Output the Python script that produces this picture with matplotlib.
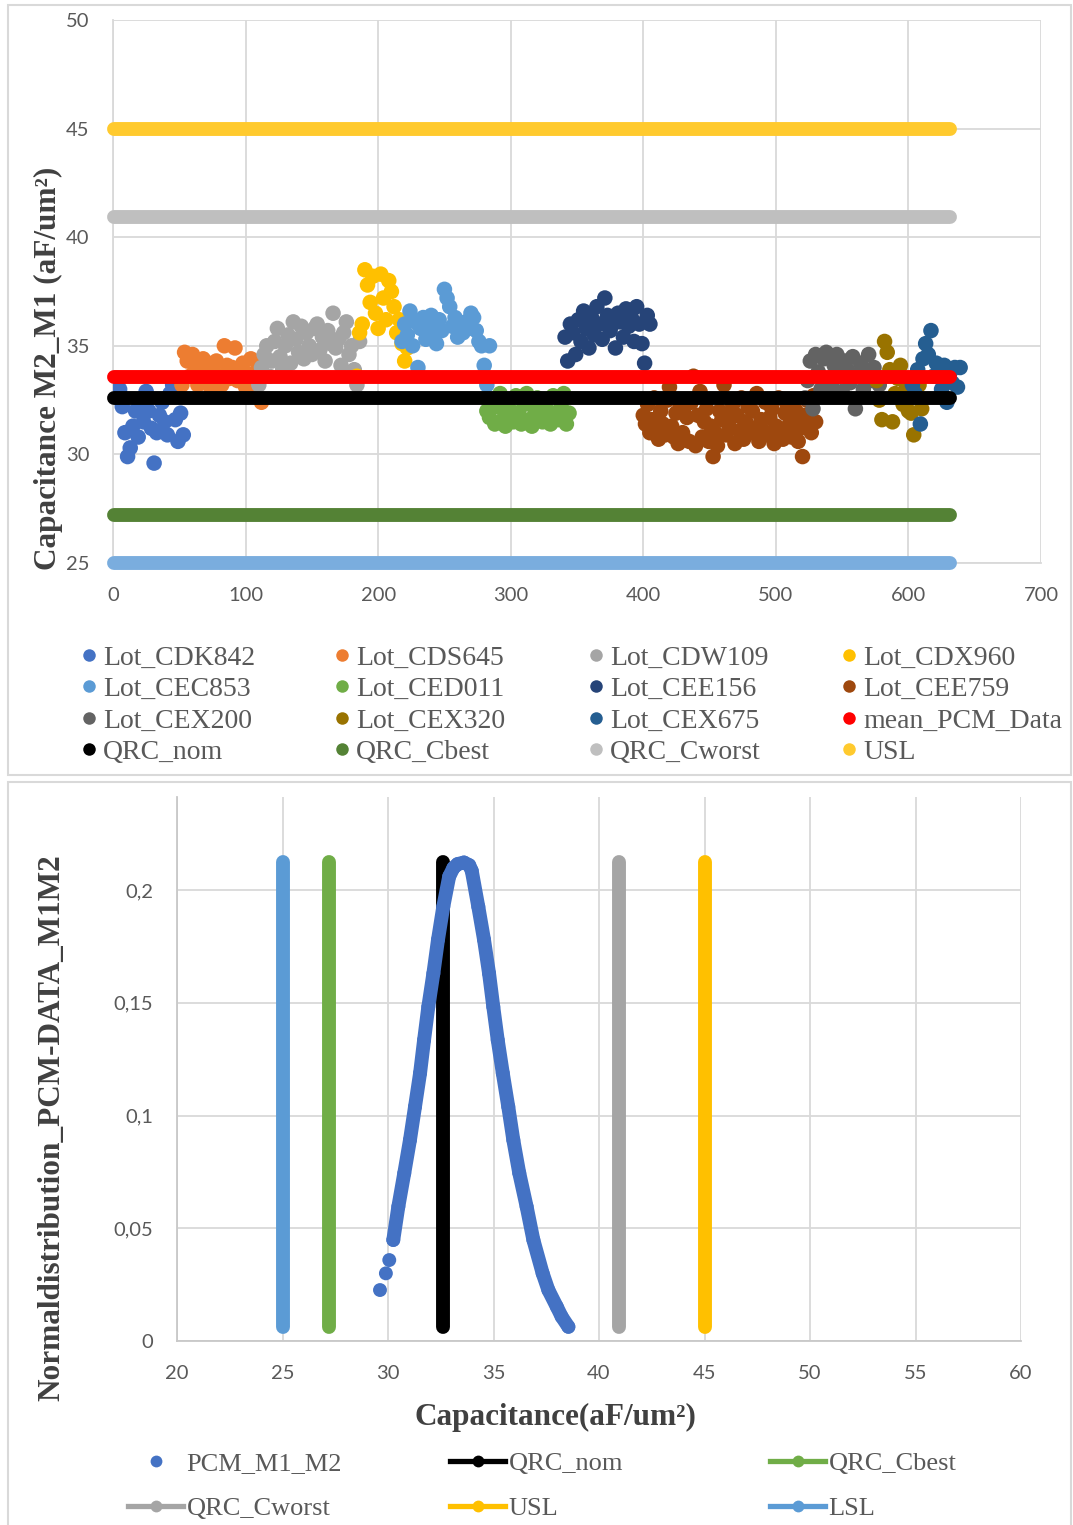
import numpy as np
import matplotlib
matplotlib.use("Agg")
import matplotlib.pyplot as plt
from matplotlib.lines import Line2D
from matplotlib.patches import Rectangle

# ---------------- data: top chart ----------------
lot_names = ["Lot_CDK842", "Lot_CDS645", "Lot_CDW109", "Lot_CDX960",
             "Lot_CEC853", "Lot_CED011", "Lot_CEE156", "Lot_CEE759",
             "Lot_CEX200", "Lot_CEX320", "Lot_CEX675"]
lot_x_start = [3, 52, 110, 184, 218, 282, 341, 400, 522, 576, 603]
lot_x_end = [53, 112, 186, 222, 284, 344, 405, 530, 578, 610, 639]

cdk842 = [33.5, 33.0, 32.2, 31.0, 29.9, 30.3, 31.3, 32.0, 30.8, 32.5, 31.5, 32.9, 32.0,
          31.2, 29.6, 31.0, 31.8, 32.4, 31.5, 30.9, 32.8, 33.2, 31.6, 30.6, 31.9, 30.9]
cds645 = [33.2, 34.7, 34.3, 33.6, 34.6, 34.0, 33.2, 33.9, 34.4, 33.5, 34.2, 33.0, 33.8,
          34.3, 33.6, 33.2, 35.0, 34.1, 33.5, 34.0, 34.9, 33.4, 33.9, 34.2, 33.1, 33.7,
          34.4, 32.9, 33.8, 34.3, 32.4]
cdw109 = [33.2, 34.0, 34.6, 35.0, 33.6, 34.3, 35.2, 35.8, 34.5, 33.9, 35.0, 35.5, 34.2,
          36.1, 35.3, 34.7, 35.9, 34.4, 35.6, 35.0, 34.6, 35.8, 36.0, 34.8, 35.4, 34.3,
          35.7, 35.1, 36.5, 34.9, 35.3, 34.1, 35.6, 36.1, 34.6, 35.0, 33.9, 33.2, 35.2]
cdx960 = [33.6, 35.6, 36.0, 38.5, 37.8, 37.0, 38.2, 36.5, 35.8, 38.3, 37.2, 36.2, 38.0,
          37.5, 36.8, 35.6, 36.2, 35.1, 34.3, 34.9]
cec853 = [35.2, 36.0, 35.5, 36.6, 35.0, 36.1, 34.0, 35.8, 36.3, 35.3, 35.9, 36.4, 35.6,
          35.1, 36.2, 35.7, 37.6, 37.2, 36.8, 35.9, 36.3, 35.4, 36.0, 35.6, 36.1, 35.8,
          36.5, 36.3, 35.7, 35.2, 35.0, 34.1, 33.2, 35.0]
ced011 = [32.0, 31.7, 32.5, 31.4, 32.2, 32.8, 31.6, 31.3, 32.4, 32.0, 31.5, 32.7, 31.9,
          31.4, 32.3, 32.8, 31.6, 31.3, 32.1, 32.6, 31.8, 31.5, 32.4, 32.0, 31.4, 32.7,
          31.8, 31.6, 32.2, 32.8, 31.4, 31.9]
cee156 = [35.4, 34.3, 36.0, 35.6, 34.6, 36.2, 35.2, 36.6, 35.8, 34.9, 36.3, 35.5, 36.8,
          36.0, 35.3, 37.2, 36.4, 35.7, 36.0, 34.9, 36.5, 36.1, 35.4, 36.7, 35.9, 36.3,
          35.2, 36.8, 36.0, 35.1, 34.2, 36.4, 36.0]
cee759 = [31.8, 31.4, 32.3, 31.0, 31.6, 32.6, 31.1, 30.7, 32.0, 31.4, 30.9, 32.5, 33.1,
          31.3, 30.8, 31.9, 30.5, 32.2, 31.0, 32.2, 31.7, 30.6, 32.4, 33.6, 30.4, 31.8,
          32.9, 30.8, 31.5, 32.1, 30.6, 31.3, 29.9, 31.0, 30.4, 32.0, 31.6, 33.2, 30.9,
          31.4, 31.9, 32.3, 30.5, 31.8, 31.1, 32.6, 30.7, 31.5, 32.2, 31.0, 32.0, 31.2,
          32.8, 30.6, 31.6, 31.1, 32.4, 30.9, 31.7, 32.1, 30.5, 31.3, 32.6, 31.0, 30.7,
          31.9, 32.3, 31.4, 30.8, 31.6, 32.0, 30.6, 31.2, 29.9, 31.8, 32.5, 31.3, 31.0,
          32.7, 31.5]
cex200 = [32.6, 33.4, 34.3, 32.1, 34.6, 33.8, 33.0, 34.4, 34.7, 33.5, 33.2, 34.1, 34.6,
          33.6, 32.9, 34.3, 33.9, 33.3, 34.5, 32.1, 33.7, 34.2, 33.0, 33.8, 34.6, 33.4,
          34.0, 33.6, 33.2]
cex320 = [33.4, 32.5, 31.6, 35.2, 34.7, 33.9, 31.5, 32.8, 33.5, 34.1, 32.3, 33.0, 32.0,
          31.9, 30.9, 32.6, 33.2, 32.1]
cex675 = [33.2, 32.8, 33.9, 31.4, 34.4, 35.1, 34.6, 35.7, 33.6, 34.2, 33.9, 33.0, 34.1,
          32.4, 33.7, 33.3, 34.0, 33.1, 34.0]
lot_values = [cdk842, cds645, cdw109, cdx960, cec853, ced011, cee156, cee759,
              cex200, cex320, cex675]

ref_names = ["mean_PCM_Data", "QRC_nom", "QRC_Cbest", "QRC_Cworst", "USL", "LSL"]
ref_values = [33.56, 32.6, 27.2, 40.95, 45.0, 25.0]
ref_x = [1, 631]

top_xticks = [0, 100, 200, 300, 400, 500, 600, 700]
top_yticks = [25, 30, 35, 40, 45, 50]

# ---------------- data: bottom chart ----------------
pdf_curve_x = [30.25, 30.49, 30.77, 31.04, 31.28, 31.52, 31.71, 31.91, 32.15, 32.37,
               32.62, 32.90, 33.10, 33.30, 33.60, 33.85, 33.97, 34.28, 34.55, 34.79,
               34.99, 35.20, 35.44, 35.70, 35.94, 36.22, 36.57, 36.89, 37.33, 37.60,
               38.00, 38.23, 38.55]
pdf_curve_y = [0.0448, 0.0596, 0.0744, 0.0891, 0.1039, 0.1188, 0.1335, 0.1482, 0.1630,
               0.1780, 0.1926, 0.2060, 0.2098, 0.2115, 0.2122, 0.2110, 0.2085, 0.1926,
               0.1780, 0.1630, 0.1482, 0.1335, 0.1188, 0.1039, 0.0891, 0.0745, 0.0596,
               0.0448, 0.0300, 0.0226, 0.0152, 0.0108, 0.0063]
pdf_tail_x = [29.62, 29.90, 30.06]
pdf_tail_y = [0.0226, 0.0300, 0.0359]

vline_names = ["QRC_nom", "QRC_Cbest", "QRC_Cworst", "USL", "LSL"]
vline_x = [32.6, 27.2, 40.95, 45.0, 25.0]
vline_y = [0.0063, 0.2124]

bot_xticks = [20, 25, 30, 35, 40, 45, 50, 55, 60]
bot_yticks = [0, 0.05, 0.1, 0.15, 0.2]
bot_yticklabels = ["0", "0,05", "0,1", "0,15", "0,2"]

# ---------------- styles ----------------
W, H = 1073, 1525
lot_colors = ["#4472C4", "#ED7D31", "#A5A5A5", "#FFC000", "#5B9BD5", "#70AD47",
              "#264478", "#9E480E", "#636363", "#997300", "#255E91"]
ref_colors = ["#FF0000", "#000000", "#548235", "#BFBFBF", "#FFCA2E", "#7AADDE"]
vline_colors = ["#000000", "#70AD47", "#A5A5A5", "#FFC000", "#5B9BD5"]
grid_c = "#D9D9D9"
tick_c = "#595959"
title_c = "#404040"
serif = "Liberation Serif"
sans = "Lato"


def fx(px):
    return px / W


def fy(py):
    return 1 - py / H


fig = plt.figure(figsize=(W / 100, H / 100), dpi=100)
fig.patch.set_facecolor("white")

# panel borders
fig.add_artist(Rectangle((fx(8), fy(775)), fx(1071) - fx(8), fy(5) - fy(775),
                         transform=fig.transFigure, fill=False, edgecolor=grid_c, lw=1.5))
fig.add_artist(Rectangle((fx(8), fy(1530)), fx(1071) - fx(8), fy(782) - fy(1530),
                         transform=fig.transFigure, fill=False, edgecolor=grid_c, lw=1.5))

# ---------------- top chart ----------------
ax1 = fig.add_axes([fx(113), fy(563), fx(1041) - fx(113), fy(20) - fy(563)])
ax1.set_xlim(0, 700)
ax1.set_ylim(25, 50)
ax1.set_xticks(top_xticks)
ax1.set_yticks(top_yticks)
ax1.grid(True, color=grid_c, lw=1.3, zorder=0)
ax1.set_axisbelow(True)
for s in ["top", "right"]:
    ax1.spines[s].set_visible(False)
for s in ["left", "bottom"]:
    ax1.spines[s].set_color(grid_c)
    ax1.spines[s].set_linewidth(1.3)
ax1.tick_params(length=0, labelcolor=tick_c, labelsize=14.5, pad=17)
for lab in ax1.get_xticklabels() + ax1.get_yticklabels():
    lab.set_fontfamily(sans)

for name, xs, xe, vals, c in zip(lot_names, lot_x_start, lot_x_end, lot_values, lot_colors):
    xx = np.linspace(xs, xe, len(vals))
    ax1.scatter(xx, vals, s=125, color=c, edgecolors="none", zorder=3, label=name)

for name, v, c in zip(ref_names, ref_values, ref_colors):
    ax1.plot(ref_x, [v, v], color=c, lw=10, solid_capstyle="round", clip_on=False,
             zorder=4, label=name)

fig.text(fx(48), fy(368), "Capacitance M2_M1 (aF/um²)", rotation=90, ha="center",
         va="center", fontsize=22.5, fontweight="bold", family=serif, color=title_c)

# top legend: 4 columns, read row-wise
top_leg_names = lot_names + ref_names[:5]
top_leg_colors = lot_colors + ref_colors[:5]
col_px = [78, 331, 585, 838]
for ci in range(4):
    idx = [r * 4 + ci for r in range(4)]
    hs = [Line2D([], [], marker="o", linestyle="none", markersize=9,
                 markerfacecolor=top_leg_colors[i], markeredgecolor="none") for i in idx]
    ls = [top_leg_names[i] for i in idx]
    fig.legend(hs, ls, loc="upper left", bbox_to_anchor=(fx(col_px[ci]), fy(645)),
               frameon=False, prop={"family": serif, "size": 20}, labelcolor=tick_c,
               handlelength=0.8, handletextpad=0.1, labelspacing=0.22, borderpad=0,
               borderaxespad=0)

# ---------------- bottom chart ----------------
ax2 = fig.add_axes([fx(177), fy(1341), fx(1021) - fx(177), fy(797) - fy(1341)])
ax2.set_xlim(20, 60)
ax2.set_ylim(0, 544 / 2255)
ax2.set_xticks(bot_xticks)
ax2.set_yticks(bot_yticks)
ax2.set_yticklabels(bot_yticklabels)
ax2.grid(True, color=grid_c, lw=1.3, zorder=0)
ax2.set_axisbelow(True)
for s in ["top", "right"]:
    ax2.spines[s].set_visible(False)
for s in ["left", "bottom"]:
    ax2.spines[s].set_color("#C8C8C8")
    ax2.spines[s].set_linewidth(1.3)
ax2.tick_params(length=0, labelcolor=tick_c, labelsize=14.5, pad=17)
for lab in ax2.get_xticklabels() + ax2.get_yticklabels():
    lab.set_fontfamily(sans)

for name, xv, c in zip(vline_names, vline_x, vline_colors):
    ax2.plot([xv, xv], vline_y, color=c, lw=10, solid_capstyle="round", zorder=3)

pcm_c = "#4472C4"
ax2.plot(pdf_curve_x, pdf_curve_y, color=pcm_c, lw=10, solid_capstyle="round",
         solid_joinstyle="round", zorder=4)
ax2.scatter(pdf_curve_x + pdf_tail_x, pdf_curve_y + pdf_tail_y, s=100, color=pcm_c,
            edgecolors="none", zorder=5)

fig.text(fx(52), fy(1128), "Normaldistribution_PCM-DATA_M1M2", rotation=90, ha="center",
         va="center", fontsize=22.5, fontweight="bold", family=serif, color=title_c)
fig.text(fx(555), fy(1417), "Capacitance(aF/um²)", ha="center", va="center",
         fontsize=22.5, fontweight="bold", family=serif, color=title_c)

# bottom legend: 3 columns x 2 rows
bot_leg = [[("PCM_M1_M2", pcm_c, False), ("QRC_Cworst", "#A5A5A5", True)],
           [("QRC_nom", "#000000", True), ("USL", "#FFC000", True)],
           [("QRC_Cbest", "#70AD47", True), ("LSL", "#5B9BD5", True)]]
bcol_px = [128, 450, 770]
for ci, col in enumerate(bot_leg):
    hs = []
    ls = []
    for lab, c, has_line in col:
        hs.append(Line2D([], [], color=c, lw=3.8 if has_line else 0, marker="o",
                         markersize=8.5, markerfacecolor=c, markeredgecolor="none"))
        ls.append(lab)
    fig.legend(hs, ls, loc="upper left", bbox_to_anchor=(fx(bcol_px[ci]), fy(1452)),
               frameon=False, prop={"family": serif, "size": 19}, labelcolor=tick_c,
               handlelength=2.1, handletextpad=0.12, labelspacing=0.8, borderpad=0,
               borderaxespad=0)

fig.savefig("out.png", dpi=100, facecolor="white")
